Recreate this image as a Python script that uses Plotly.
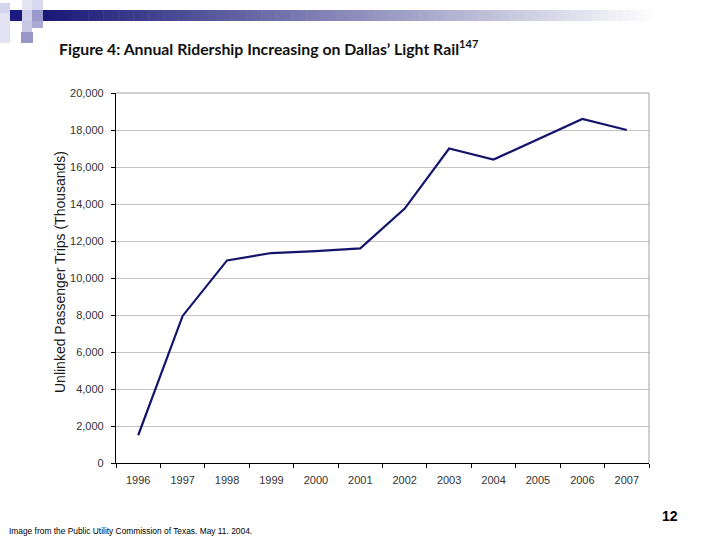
import plotly.graph_objects as go

years = ["1996", "1997", "1998", "1999", "2000", "2001", "2002", "2003", "2004", "2005", "2006", "2007"]
ridership = [1500, 7950, 10950, 11350, 11450, 11600, 13750, 17000, 16400, 17500, 18600, 18000]
y_ticks = [0, 2000, 4000, 6000, 8000, 10000, 12000, 14000, 16000, 18000, 20000]

W, H = 720, 540
L, R, T, B = 116, 649, 93, 463

def px(x):
    return (x - L) / (R - L)

def py(y):
    return (B - y) / (B - T)

fig = go.Figure()
fig.add_trace(go.Scatter(
    x=years, y=ridership, mode="lines",
    line=dict(color="#14146b", width=2.2),
    hoverinfo="x+y", showlegend=False,
))

shapes = []
# gradient banner
x0, x1 = 43, 720
n = 90
for i in range(n):
    a = x0 + (x1 - x0) * i / n
    b = x0 + (x1 - x0) * (i + 1) / n + 0.5
    t = i / (n - 1)
    t2 = min(1.0, t * 1.1)
    r = int(26 + (255 - 26) * t2)
    g = int(26 + (255 - 26) * t2)
    bl = int(120 + (255 - 120) * t2)
    shapes.append(dict(type="rect", xref="paper", yref="paper",
                       x0=px(a), x1=px(b), y0=py(21), y1=py(10),
                       line=dict(width=0), fillcolor=f"rgb({r},{g},{bl})", layer="below"))
# decorative squares
squares = [
    (0, 3, 10, 13, "#d4d4ec"),
    (0, 13, 10, 43, "#e2e2f2"),
    (22, 0, 32, 10, "#e4e4f2"),
    (10, 10, 22, 21, "#1a1a80"),
    (22, 10, 32, 21, "#cfcfea"),
    (32, 10, 43, 21, "#9a9acc"),
    (32, 0, 43, 10, "#d8d8ee"),
    (22, 21, 32, 32, "#c8c8e6"),
    (32, 21, 43, 28, "#a8a8d4"),
    (21, 32, 33, 43, "#9898c8"),
]
for (a, c, b, d, col) in squares:
    shapes.append(dict(type="rect", xref="paper", yref="paper",
                       x0=px(a), x1=px(b), y0=py(d), y1=py(c),
                       line=dict(width=0), fillcolor=col, layer="below"))
# plot border top & right (gray)
shapes.append(dict(type="line", xref="paper", yref="paper", x0=0, x1=1, y0=1, y1=1,
                   line=dict(color="#a0a0a0", width=1)))
shapes.append(dict(type="line", xref="paper", yref="paper", x0=1, x1=1, y0=0, y1=1,
                   line=dict(color="#a0a0a0", width=1)))

annotations = [
    dict(text="Figure 4: Annual Ridership Increasing on Dallas’ Light Rail<sup>147</sup>",
         xref="paper", yref="paper", x=px(57), y=py(48), xanchor="left", yanchor="middle",
         showarrow=False, font=dict(family="Lato", size=15.8, color="#111111", weight="bold")),
    dict(text="Unlinked Passenger Trips (Thousands)",
         xref="paper", yref="paper", x=px(60), y=py(272), xanchor="center", yanchor="middle",
         textangle=-90, showarrow=False,
         font=dict(family="Liberation Sans", size=14, color="#1a1a1a")),
    dict(text="12", xref="paper", yref="paper", x=px(670), y=py(516),
         xanchor="center", yanchor="middle", showarrow=False,
         font=dict(family="Liberation Sans", size=14, color="#000000", weight="bold")),
    dict(text="Image from the Public Utility Commission of Texas. May 11. 2004.",
         xref="paper", yref="paper", x=px(7), y=py(531), xanchor="left", yanchor="middle",
         showarrow=False, font=dict(family="Liberation Sans", size=8.4, color="#000000")),
]

fig.update_layout(
    width=W, height=H,
    margin=dict(l=L, r=W - R, t=T, b=H - B, pad=0),
    paper_bgcolor="white", plot_bgcolor="white",
    shapes=shapes, annotations=annotations,
    font=dict(family="Liberation Sans", size=11, color="#333333"),
    xaxis=dict(type="category", range=[-0.5, len(years) - 0.5], tickson="boundaries",
               ticks="outside", ticklen=4, ticklabelstandoff=7,
               tickcolor="#000000", showline=True, linecolor="#000000", linewidth=1.2,
               showgrid=False, tickfont=dict(size=11, color="#333333")),
    yaxis=dict(range=[0, 20000], tickvals=y_ticks, tickformat=",", ticks="outside", ticklen=4,
               ticklabelstandoff=5,
               tickcolor="#000000", showline=True, linecolor="#000000", linewidth=1.2,
               showgrid=True, gridcolor="#c4c4c4", gridwidth=1, zeroline=False,
               tickfont=dict(size=11, color="#333333")),
)

fig.write_html("out.html", config={"displayModeBar": False},
               post_script="document.body.style.margin='0';document.body.style.padding='0';")
